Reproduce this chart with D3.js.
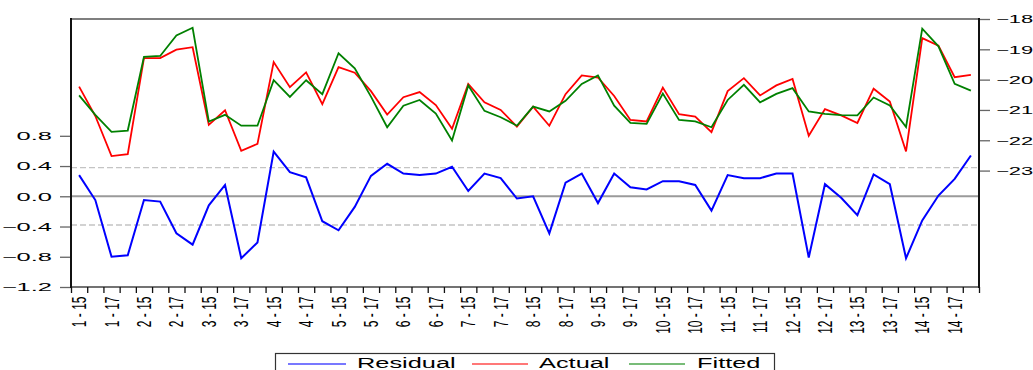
<!DOCTYPE html>
<html>
<head>
<meta charset="utf-8">
<script src="https://cdn.jsdelivr.net/npm/d3@7"></script>
<style>
  html, body { margin: 0; padding: 0; background: #fff; overflow: hidden; }
  svg { display: block; font-family: "Liberation Sans", Arial, sans-serif; }
</style>
</head>
<body>
<svg id="chart" width="1033" height="370"></svg>
<script>
// Cross-section groups and periods that make up the observation labels
const groups = [1, 2, 3, 4, 5, 6, 7, 8, 9, 10, 11, 12, 13, 14];
const periods = [15, 16, 17, 18];

// Residual series (left axis)
const residual = [
  0.28, -0.05, -0.80, -0.78, -0.05, -0.07, -0.49, -0.64, -0.12, 0.15,
  -0.82, -0.61, 0.59, 0.32, 0.25, -0.33, -0.45, -0.14, 0.27, 0.43,
  0.30, 0.28, 0.30, 0.39, 0.07, 0.30, 0.24, -0.03, 0.00, -0.49,
  0.18, 0.30, -0.09, 0.30, 0.12, 0.09, 0.20, 0.20, 0.15, -0.19,
  0.28, 0.24, 0.24, 0.30, 0.30, -0.81, 0.16, -0.02, -0.25, 0.29,
  0.16, -0.82, -0.32, 0.01, 0.23, 0.54
];

// Actual series (right axis)
const actual = [
  -20.23, -21.20, -22.52, -22.46, -19.29, -19.29, -19.01, -18.93, -21.49, -21.01,
  -22.35, -22.12, -19.42, -20.25, -19.76, -20.81, -19.59, -19.77, -20.38, -21.15,
  -20.58, -20.41, -20.84, -21.62, -20.14, -20.75, -21.00, -21.55, -20.89, -21.52,
  -20.48, -19.86, -19.93, -20.54, -21.33, -21.38, -20.26, -21.14, -21.22, -21.73,
  -20.38, -19.95, -20.52, -20.19, -19.98, -21.85, -20.97, -21.18, -21.43, -20.30,
  -20.72, -22.37, -18.63, -18.88, -19.92, -19.84
];

// Fitted series (right axis)
const fitted = [
  -20.52, -21.16, -21.72, -21.68, -19.25, -19.22, -18.54, -18.29, -21.38, -21.16,
  -21.52, -21.52, -20.02, -20.57, -20.02, -20.48, -19.13, -19.63, -20.56, -21.57,
  -20.86, -20.67, -21.12, -22.01, -20.19, -21.03, -21.24, -21.52, -20.89, -21.05,
  -20.70, -20.14, -19.86, -20.86, -21.43, -21.46, -20.46, -21.33, -21.38, -21.57,
  -20.67, -20.17, -20.75, -20.47, -20.28, -21.05, -21.13, -21.17, -21.18, -20.59,
  -20.85, -21.56, -18.32, -18.90, -20.14, -20.36
];

// Axis ticks and the +/- one standard error band of the residual
const leftTicks = [-1.2, -0.8, -0.4, 0.0, 0.4, 0.8];
const rightTicks = [-23, -22, -21, -20, -19, -18];
const seBand = [-0.38, 0.38];

const legendItems = ["Residual", "Actual", "Fitted"];
const colors = { Residual: "#0000ff", Actual: "#ff0000", Fitted: "#008000" };

// Observation labels "group - period"
const categories = [];
groups.forEach(g => periods.forEach(p => categories.push(g + " - " + p)));

const svg = d3.select("#chart");
const plot = { left: 71, right: 979, top: 19, bottom: 287 };

const x = d3.scaleBand().domain(categories).range([plot.left, plot.right]).padding(0);
const xc = d => x(d) + x.bandwidth() / 2;
const xEdges = d3.scaleLinear().domain([0, categories.length]).range([plot.left, plot.right]);

const yL = d3.scaleLinear().domain([-1.2, 2.345]).range([plot.bottom, plot.top]);
const yR = d3.scaleLinear().domain([-26.84, -18]).range([plot.bottom, plot.top]);

// Zero line and standard-error guides
svg.append("line")
  .attr("x1", plot.left).attr("x2", plot.right)
  .attr("y1", yL(0)).attr("y2", yL(0))
  .attr("stroke", "#9a9a9a").attr("stroke-width", 2);

svg.selectAll(".se").data(seBand).enter().append("line")
  .attr("x1", plot.left).attr("x2", plot.right)
  .attr("y1", d => yL(d)).attr("y2", d => yL(d))
  .attr("stroke", "#c4c4c4").attr("stroke-width", 1.3)
  .attr("stroke-dasharray", "6,3");

// Series lines
const lineL = d3.line().x((d, i) => xc(categories[i])).y(d => yL(d));
const lineR = d3.line().x((d, i) => xc(categories[i])).y(d => yR(d));

svg.append("path").datum(residual).attr("d", lineL)
  .attr("fill", "none").attr("stroke", colors.Residual).attr("stroke-width", 2)
  .attr("stroke-linejoin", "miter");
svg.append("path").datum(actual).attr("d", lineR)
  .attr("fill", "none").attr("stroke", colors.Actual).attr("stroke-width", 1.8);
svg.append("path").datum(fitted).attr("d", lineR)
  .attr("fill", "none").attr("stroke", colors.Fitted).attr("stroke-width", 1.8);

// Frame
svg.append("line").attr("x1", plot.left).attr("x2", plot.right)
  .attr("y1", plot.top).attr("y2", plot.top)
  .attr("stroke", "#555").attr("stroke-width", 1.5);
svg.append("line").attr("x1", plot.left).attr("x2", plot.right)
  .attr("y1", plot.bottom).attr("y2", plot.bottom)
  .attr("stroke", "#444").attr("stroke-width", 1.5);

// Left axis
const gL = svg.append("g").attr("transform", `translate(${plot.left},0)`)
  .call(d3.axisLeft(yL).tickValues(leftTicks).tickSize(11).tickFormat(d3.format(".1f")));
gL.select(".domain").remove();
gL.selectAll(".tick line").attr("stroke", "#666").attr("stroke-width", 1.3);
gL.selectAll(".tick text")
  .attr("x", 0).attr("dy", "0.36em").attr("text-anchor", "end")
  .attr("font-size", 10.7).attr("fill", "#000")
  .attr("transform", "translate(-19,0) scale(2.38,1)");

// Right axis
const gR = svg.append("g").attr("transform", `translate(${plot.right},0)`)
  .call(d3.axisRight(yR).tickValues(rightTicks).tickSize(11).tickFormat(d3.format("d")));
gR.select(".domain").remove();
gR.selectAll(".tick line").attr("stroke", "#666").attr("stroke-width", 1.3);
gR.selectAll(".tick text")
  .attr("x", 0).attr("dy", "0.36em").attr("text-anchor", "start")
  .attr("font-size", 10.7).attr("fill", "#000")
  .attr("transform", "translate(17,0) scale(2.05,1)");

// Vertical frame sides
svg.append("line").attr("x1", plot.left).attr("x2", plot.left)
  .attr("y1", plot.top - 1).attr("y2", plot.bottom + 1)
  .attr("stroke", "#111").attr("stroke-width", 2);
svg.append("line").attr("x1", plot.right).attr("x2", plot.right)
  .attr("y1", plot.top - 1).attr("y2", plot.bottom + 1)
  .attr("stroke", "#111").attr("stroke-width", 2);

// Bottom axis: ticks at every observation boundary
const gB = svg.append("g").attr("transform", `translate(0,${plot.bottom})`)
  .call(d3.axisBottom(xEdges).tickValues(d3.range(categories.length + 1))
    .tickSize(6).tickFormat(""));
gB.select(".domain").remove();
gB.selectAll(".tick line").attr("stroke", "#111").attr("stroke-width", 1.3);

// Rotated observation labels, every second observation
svg.append("g").selectAll("text")
  .data(categories.filter((d, i) => i % 2 === 0))
  .enter().append("text")
  .attr("transform", d => `translate(${xc(d)},${plot.bottom + 9.5}) scale(1.63,1) rotate(-90)`)
  .attr("text-anchor", "end").attr("dy", "0.36em")
  .attr("font-size", 12).attr("fill", "#000")
  .text(d => d);

// Legend
const lg = svg.append("g");
lg.append("rect").attr("x", 275.5).attr("y", 353.5).attr("width", 499).attr("height", 30)
  .attr("fill", "#fff").attr("stroke", "#333").attr("stroke-width", 1.2);
const legendPos = [
  { line: [288, 346], text: 357 },
  { line: [472, 528], text: 539 },
  { line: [629, 685], text: 697 }
];
legendItems.forEach((name, i) => {
  const p = legendPos[i];
  lg.append("line").attr("x1", p.line[0]).attr("x2", p.line[1])
    .attr("y1", 364).attr("y2", 364)
    .attr("stroke", colors[name]).attr("stroke-width", 1.3).attr("opacity", 0.7);
  lg.append("text")
    .attr("transform", `translate(${p.text},367.7) scale(1.75,1)`)
    .attr("font-size", 14.5).attr("fill", "#000")
    .text(name);
});
</script>
</body>
</html>
